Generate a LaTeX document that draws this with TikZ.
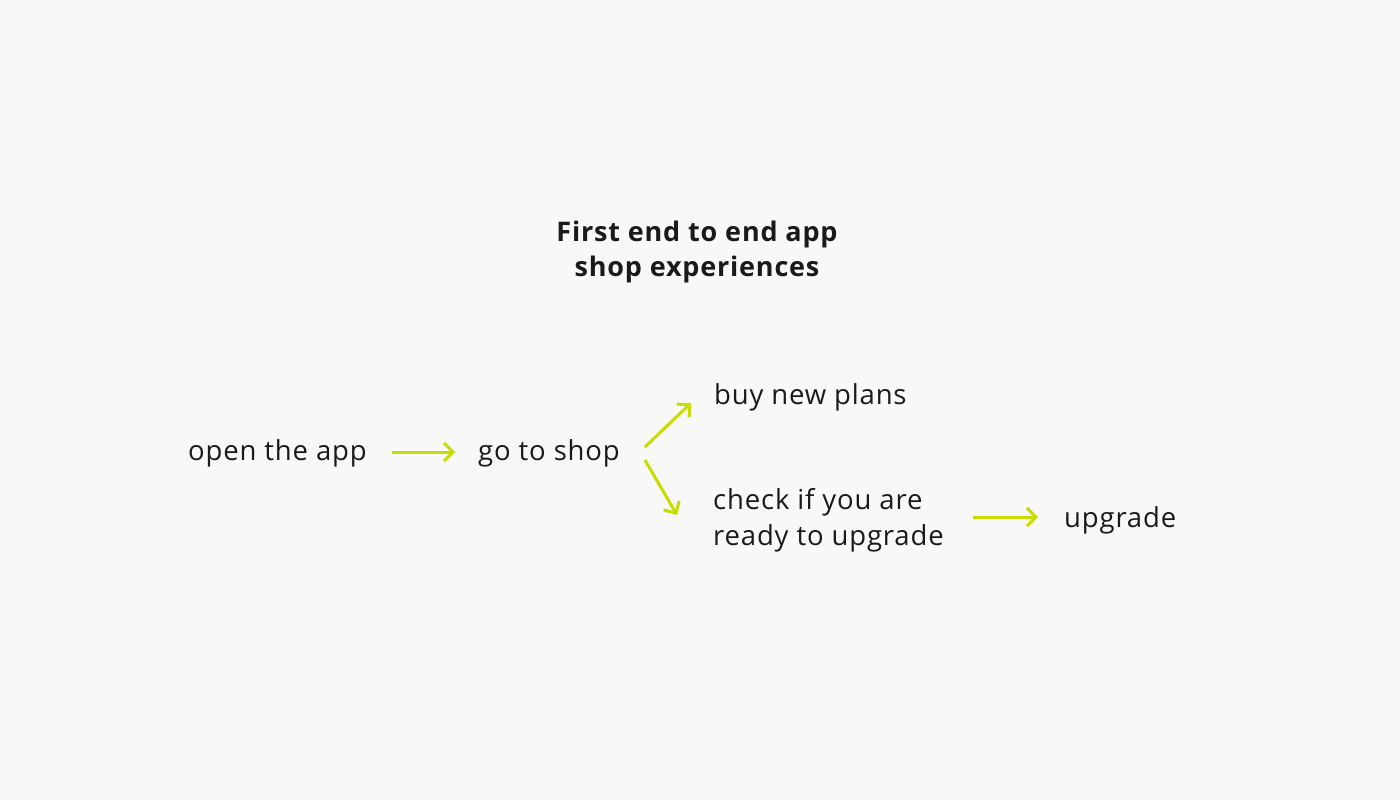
\documentclass[tikz,border=0pt]{standalone}
\usepackage{fontspec}
\setmainfont[LetterSpace=3]{Open Sans}
\usetikzlibrary{arrows.meta}
\definecolor{bgc}{HTML}{F8F8F8}
\definecolor{ink}{HTML}{1A1A1A}
\definecolor{lime}{HTML}{C8DC00}
\begin{document}
\begin{tikzpicture}[x=1pt,y=-1pt,
        every node/.style={inner sep=0pt,text=ink,font=\fontsize{27.5}{36}\selectfont,
            text height=20pt,text depth=4pt},
        flow/.style={draw=lime,line width=3pt,-{Straight Barb[length=9pt,width=18pt]}}]
    \fill[bgc] (0,0) rectangle (1400,800);

    \node[align=center,font=\fontsize{27}{35}\selectfont\bfseries,text height=,text depth=]
        (title) at (697,252) {First end to end app\\shop experiences};

    \node[anchor=base west] (open) at (188,460) {open the app};
    \node[anchor=base west] (shop) at (478,460) {go to shop};
    \node[anchor=base west] (buy) at (714,404) {buy new plans};
    \node[anchor=base west,align=left] (check) at (713,545) {check if you are\\ready to upgrade};
    \node[anchor=base west] (upgrade) at (1064,527) {upgrade};

    \draw[flow,shorten <=25pt,shorten >=23pt] (open) -- (shop);
    \draw[flow] ([xshift=25pt,yshift=5pt]shop.east) -- ([xshift=-23pt,yshift=-7pt]buy.west);
    \draw[flow] ([xshift=25pt,yshift=-8pt]shop.east) -- ([xshift=-36pt,yshift=22pt]check.west);
    \draw[flow] ([xshift=29pt,yshift=2pt]check.east |- upgrade.west) -- ([xshift=-26pt,yshift=2pt]upgrade.west);
\end{tikzpicture}
\end{document}
